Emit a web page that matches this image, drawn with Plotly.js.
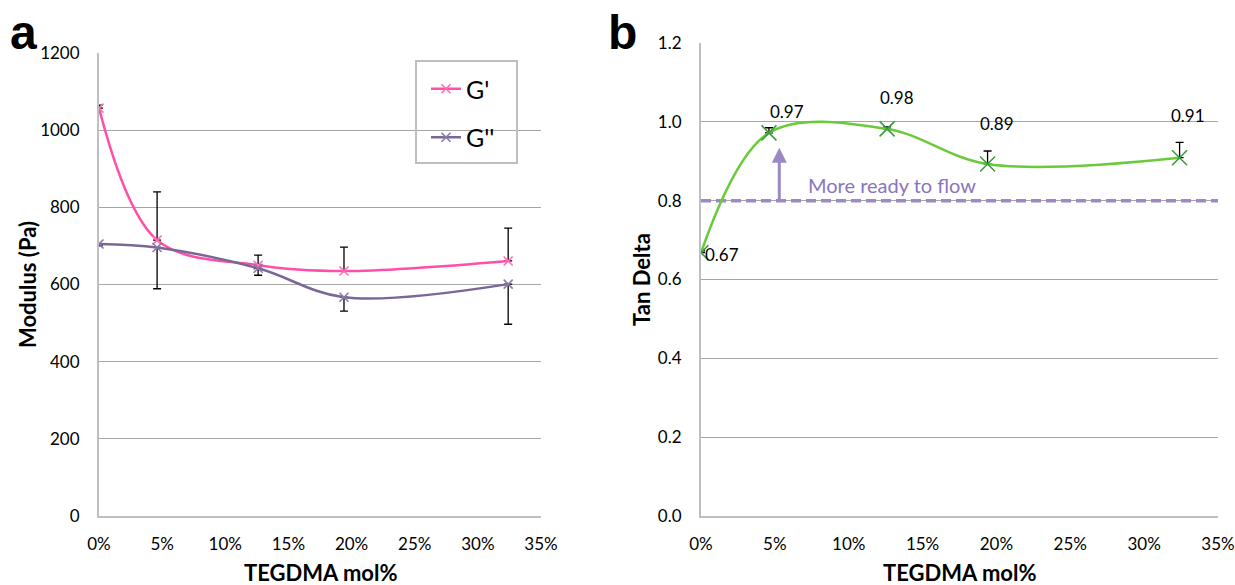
<!DOCTYPE html>
<html>
<head>
<meta charset="utf-8">
<script src="https://cdn.plot.ly/plotly-3.0.1.min.js"></script>
<style>html,body{margin:0;padding:0;background:#fff;}#chart{width:1235px;height:585px;}</style>
</head>
<body>
<div id="chart"></div>
<script>
// ---- data ----
const molPct = [0, 4.6, 12.6, 19.4, 32.4];          // TEGDMA mol%
const gPrime = [1057, 715, 650, 635, 661];           // G' (Pa)
const gPrimeErrPlus = [8, 125, 26, 62, 85];
const gDouble = [705, 696, 642, 567, 601];           // G'' (Pa)
const gDoubleErrMinus = [5, 107, 18, 36, 104];
const tanDelta = [0.668, 0.972, 0.982, 0.893, 0.909];
const tanDeltaErrPlus = [0.005, 0.013, 0.005, 0.033, 0.039];
const tanLabels = ['0.67', '0.97', '0.98', '0.89', '0.91'];
const flowThreshold = 0.8;
const arrowTip = 0.934;
const arrowX = 5.3;
const xRange = [0, 35];
const modulusRange = [0, 1200];
const tanRange = [0, 1.2];

// ---- styling ----
const W = 1235, H = 585;
const px = v => v / W, py = v => (H - v) / H;
const labelShift = [[21, -2], [18, 21], [10, 31], [9, 41], [8, 42]];
const tickFont = {family: 'Lato, sans-serif', size: 17, color: '#000'};
const labelFont = {family: 'Lato, sans-serif', size: 17, color: '#000'};
const titleFont = {family: 'Lato, sans-serif', size: 22, color: '#000', weight: 'bold'};
const letterFont = {family: 'Liberation Sans, Arial, sans-serif', size: 48, color: '#000', weight: 'bold'};
const gridC = '#a6a6a6', axisC = '#bfbfbf';
const zeros = molPct.map(() => 0);

const baseX = {
  range: xRange, dtick: 5, tick0: 0, ticksuffix: '%', showgrid: false, zeroline: false,
  showline: true, linecolor: axisC, linewidth: 2, ticks: '', tickfont: tickFont,
  ticklabelstandoff: 12, fixedrange: true
};
const baseY = {
  showgrid: true, gridcolor: gridC, gridwidth: 1.3, zeroline: false,
  showline: true, linecolor: axisC, linewidth: 2, ticks: '', tickfont: tickFont,
  ticklabelstandoff: 14, fixedrange: true
};

const traces = [
  {
    x: molPct, y: gPrime, name: "G'", type: 'scatter', mode: 'lines+markers',
    xaxis: 'x', yaxis: 'y', legendgroup: 'a1',
    line: {color: '#ff4fa6', width: 2.5, shape: 'spline', smoothing: 1},
    marker: {symbol: 'x-thin-open', size: 9, color: '#ff6fb8', line: {width: 1.6, color: '#ff6fb8'}},
    error_y: {type: 'data', symmetric: false, array: gPrimeErrPlus, arrayminus: zeros,
              visible: true, color: '#000', thickness: 1.3, width: 4}
  },
  {
    x: molPct, y: gDouble, name: "G''", type: 'scatter', mode: 'lines+markers',
    xaxis: 'x', yaxis: 'y', legendgroup: 'a2',
    line: {color: '#7a6797', width: 2.5, shape: 'spline', smoothing: 1},
    marker: {symbol: 'x-thin-open', size: 9, color: '#8a79a8', line: {width: 1.6, color: '#8a79a8'}},
    error_y: {type: 'data', symmetric: false, array: zeros, arrayminus: gDoubleErrMinus,
              visible: true, color: '#000', thickness: 1.3, width: 4}
  },
  {
    x: [xRange[0], xRange[1]], y: [flowThreshold, flowThreshold], type: 'scatter', mode: 'lines',
    xaxis: 'x2', yaxis: 'y2', showlegend: false, hoverinfo: 'skip',
    line: {color: '#9d88c6', width: 3.5, dash: '10px,5px'}
  },
  {
    x: molPct, y: tanDelta, name: 'Tan Delta', type: 'scatter', mode: 'lines+markers',
    xaxis: 'x2', yaxis: 'y2', showlegend: false,
    line: {color: '#6acb3a', width: 2.5, shape: 'spline', smoothing: 1},
    marker: {symbol: 'x-thin-open', size: 15, color: '#3a9c3a', line: {width: 1.6, color: '#3a9c3a'}},
    error_y: {type: 'data', symmetric: false, array: tanDeltaErrPlus, arrayminus: zeros,
              visible: true, color: '#000', thickness: 1.3, width: 4}
  }
];

const paperText = (x, y, text, font, extra) => Object.assign({
  xref: 'paper', yref: 'paper', x: px(x), y: py(y), text: text, showarrow: false,
  xanchor: 'center', yanchor: 'middle', font: font}, extra || {});

const annotations = [
  paperText(23, 32, 'a', letterFont),
  paperText(622, 32, 'b', letterFont),
  paperText(27, 285, 'Modulus (Pa)', titleFont, {textangle: -90}),
  paperText(641, 280, 'Tan Delta', titleFont, {textangle: -90}),
  paperText(320, 572, 'TEGDMA mol%', titleFont),
  paperText(959, 572, 'TEGDMA mol%', titleFont),
  {xref: 'x2', yref: 'y2', x: arrowX, y: arrowTip, ax: arrowX, ay: flowThreshold, axref: 'x2', ayref: 'y2',
   text: '', showarrow: true, arrowhead: 2, arrowsize: 1, arrowwidth: 3, arrowcolor: '#9d88c6', standoff: 0},
  {xref: 'x2', yref: 'y2', x: 12.9, y: 0.84, text: 'More ready to flow', showarrow: false,
   xanchor: 'center', yanchor: 'middle', font: {family: 'Lato, sans-serif', size: 20, color: '#8c73bd'}}
];
tanLabels.forEach((t, i) => {
  annotations.push({xref: 'x2', yref: 'y2', x: molPct[i], y: tanDelta[i], text: t, showarrow: false,
    xanchor: 'center', yanchor: 'middle',
    xshift: labelShift[i][0], yshift: labelShift[i][1], font: labelFont});
});

const layout = {
  width: W, height: H, margin: {l: 0, r: 0, t: 0, b: 0},
  paper_bgcolor: '#fff', plot_bgcolor: '#fff',
  xaxis: Object.assign({}, baseX, {domain: [px(99), px(541)], anchor: 'y'}),
  yaxis: Object.assign({}, baseY, {domain: [py(516), py(53)], range: modulusRange, dtick: 200, anchor: 'x'}),
  xaxis2: Object.assign({}, baseX, {domain: [px(701), px(1218)], anchor: 'y2'}),
  yaxis2: Object.assign({}, baseY, {domain: [py(516), py(43)], range: tanRange, dtick: 0.2, tickformat: '.1f', anchor: 'x2'}),
  showlegend: true,
  legend: {x: px(426), y: py(66), xanchor: 'left', yanchor: 'top', bgcolor: 'rgba(0,0,0,0)',
           borderwidth: 0, font: {family: 'Lato, sans-serif', size: 25, color: '#000'},
           tracegroupgap: 13, itemwidth: 30},
  shapes: [{type: 'rect', xref: 'paper', yref: 'paper', x0: px(416), x1: px(517), y0: py(163), y1: py(61),
            line: {color: '#bfbfbf', width: 2}, fillcolor: 'rgba(0,0,0,0)', layer: 'above'}],
  annotations: annotations
};

Plotly.newPlot('chart', traces, layout, {staticPlot: true, displayModeBar: false});
</script>
</body>
</html>
